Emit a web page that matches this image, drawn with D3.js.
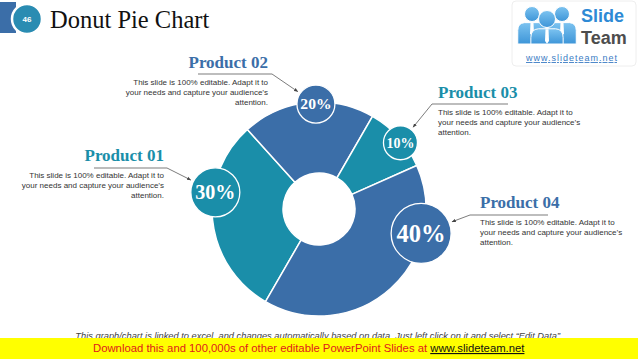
<!DOCTYPE html>
<html>
<head lang="en">
  <title>Donut Pie Chart</title>
  <script src="https://d3js.org/d3.v7.min.js" charset="utf-8"></script>
  <style>
    body { margin: 0; background: #fff; }
    svg { display: block; }
  </style>
</head>
<body>
  <script>
    // chart data
    var products = ["Product 01", "Product 02", "Product 03", "Product 04"];
    var shares = [30, 20, 10, 40];
    var descLines = ["This slide is 100% editable. Adapt it to",
                     "your needs and capture your audience\u2019s",
                     "attention."];

    var width = 638;
    var height = 359;
    var teal = "#1a8ea9";
    var blue = "#3b6ea8";
    var serif = "'Liberation Serif', 'Times New Roman', serif";
    var sans = "'Liberation Sans', Arial, sans-serif";

    var svg = d3.select("body")
      .append("svg")
      .attr("width", width)
      .attr("height", height);

    var defs = svg.append("defs");
    defs.append("marker")
        .attr("id", "arrow")
        .attr("viewBox", "0 0 10 10")
        .attr("refX", 9).attr("refY", 5)
        .attr("markerWidth", 6).attr("markerHeight", 6)
        .attr("orient", "auto")
      .append("path")
        .attr("d", "M0,1 L10,5 L0,9 Z")
        .attr("fill", "#444");

    //HEADER
    svg.append("rect")
      .attr("x", 0).attr("y", 2).attr("width", 16).attr("height", 31)
      .attr("fill", blue);
    svg.append("circle")
      .attr("cx", 27).attr("cy", 19).attr("r", 15)
      .attr("fill", "#2a8cb2")
      .attr("stroke", "#fff").attr("stroke-width", 2.5);
    svg.append("text")
      .attr("x", 27).attr("y", 22)
      .attr("text-anchor", "middle")
      .style("font", "bold 8px " + sans)
      .attr("fill", "#fff")
      .text("46");
    svg.append("text")
      .attr("x", 50).attr("y", 28)
      .style("font-family", serif)
      .style("font-size", "24.5px")
      .attr("fill", "#111")
      .text("Donut Pie Chart");

    //LOGO
    var logo = svg.append("g");
    logo.append("rect")
      .attr("x", 512).attr("y", 1).attr("width", 124).attr("height", 65).attr("rx", 4)
      .attr("fill", "#fff").attr("stroke", "#eee");
    var grad = defs.append("linearGradient").attr("id", "ppl")
      .attr("x1", 0).attr("y1", 0).attr("x2", 0).attr("y2", 1);
    grad.append("stop").attr("offset", "0%").attr("stop-color", "#7cc3f0");
    grad.append("stop").attr("offset", "100%").attr("stop-color", "#3d95d8");
    [[532, 14, 7.5], [562, 14, 7.5], [547, 19, 8.5]].forEach(function(p) {
      var cx = p[0], cy = p[1], r = p[2];
      logo.append("path")
        .attr("d", "M" + (cx - r * 1.9) + "," + (44) +
                   " L" + (cx - r * 1.9) + "," + (cy + r * 2.2) +
                   " Q" + (cx - r * 1.9) + "," + (cy + r * 1.2) + " " + (cx - r) + "," + (cy + r * 1.15) +
                   " L" + (cx + r) + "," + (cy + r * 1.15) +
                   " Q" + (cx + r * 1.9) + "," + (cy + r * 1.2) + " " + (cx + r * 1.9) + "," + (cy + r * 2.2) +
                   " L" + (cx + r * 1.9) + "," + 44 + " Z")
        .attr("fill", "url(#ppl)").attr("stroke", "#fff").attr("stroke-width", 1);
      logo.append("circle")
        .attr("cx", cx).attr("cy", cy).attr("r", r)
        .attr("fill", "url(#ppl)").attr("stroke", "#fff").attr("stroke-width", 1);
      logo.append("path")
        .attr("d", "M" + (cx - 1.5) + "," + (cy + r * 1.2) + " L" + (cx + 1.5) + "," + (cy + r * 1.2) +
                   " L" + (cx + 2) + "," + (cy + r * 2.6) + " L" + cx + "," + (cy + r * 2.9) +
                   " L" + (cx - 2) + "," + (cy + r * 2.6) + " Z")
        .attr("fill", "#fff");
    });
    logo.append("text")
      .attr("x", 581).attr("y", 22)
      .style("font", "bold 18px " + sans)
      .attr("fill", "#2e8ad5")
      .text("Slide");
    logo.append("text")
      .attr("x", 581).attr("y", 44)
      .style("font", "bold 18px " + sans)
      .attr("fill", "#4d4d4d")
      .text("Team");
    logo.append("text")
      .attr("x", 526).attr("y", 61)
      .attr("textLength", 91)
      .style("font", "9px " + sans)
      .style("text-decoration", "underline")
      .attr("fill", "#3b7cc4")
      .text("www.slideteam.net");

    //DONUT
    var cx = 319, cy = 209;
    var outerR = 107, innerR = 36;
    var colors = [teal, blue, teal, blue];

    var pie = d3.pie()
      .sort(null)
      .startAngle(210 * Math.PI / 180)
      .endAngle(570 * Math.PI / 180);

    var arc = d3.arc()
      .innerRadius(innerR)
      .outerRadius(outerR);

    var arcs = pie(shares);

    var donut = svg.append("g")
      .attr("transform", "translate(" + cx + "," + cy + ")");

    donut.selectAll("path")
      .data(arcs)
      .enter().append("path")
        .attr("d", arc)
        .attr("fill", function(d, i) { return colors[i]; })
        .attr("stroke", "#fff")
        .attr("stroke-width", 1.5);

    // badge sits on the rim, at this fraction along its slice
    var badgeAt = [0.64, 0.56, 0.58, 0.26];
    var badgeR = d3.scaleLinear().domain([10, 20, 40]).range([17, 19, 30]);

    var badges = arcs.map(function(d, i) {
      var a = d.startAngle + (d.endAngle - d.startAngle) * badgeAt[i];
      var rr = outerR - 2;
      return {
        x: cx + rr * Math.sin(a),
        y: cy - rr * Math.cos(a),
        r: badgeR(d.data),
        v: d.data,
        color: colors[i]
      };
    });

    var badge = svg.append("g").selectAll("g")
      .data(badges)
      .enter().append("g")
        .attr("transform", function(d) { return "translate(" + d.x + "," + d.y + ")"; });
    badge.append("circle")
      .attr("r", function(d) { return d.r; })
      .attr("fill", function(d) { return d.color; })
      .attr("stroke", "#fff")
      .attr("stroke-width", 1.3);
    badge.append("text")
      .attr("text-anchor", "middle")
      .attr("dy", "0.35em")
      .style("font-family", serif)
      .style("font-weight", "bold")
      .style("font-size", function(d) { return (d.r * 0.82) + "px"; })
      .attr("fill", "#fff")
      .text(function(d) { return d.v + "%"; });

    //CALLOUTS
    var callouts = [
      { x: 164, y: 161, anchor: "end",   line: [94, 168, 167] },
      { x: 268, y: 68,  anchor: "end",   line: [198, 74, 272] },
      { x: 438, y: 98,  anchor: "start", line: [508, 104, 432] },
      { x: 480, y: 208, anchor: "start", line: [548, 215, 470] }
    ];

    callouts.forEach(function(c, i) {
      var b = badges[i];
      svg.append("text")
        .attr("x", c.x).attr("y", c.y)
        .attr("text-anchor", c.anchor)
        .style("font-family", serif)
        .style("font-weight", "bold")
        .style("font-size", "17px")
        .attr("fill", colors[i])
        .text(products[i]);

      descLines.forEach(function(t, j) {
        svg.append("text")
          .attr("x", c.x).attr("y", c.y + 17 + j * 10)
          .attr("text-anchor", c.anchor)
          .style("font-family", sans)
          .style("font-size", "8px")
          .attr("fill", "#333")
          .text(t);
      });

      var ex = c.line[2], ey = c.line[1];
      var dx = b.x - ex, dy = b.y - ey;
      var len = Math.sqrt(dx * dx + dy * dy);
      var tx = b.x - dx / len * (b.r + 3);
      var ty = b.y - dy / len * (b.r + 3);
      svg.append("path")
        .attr("d", "M" + c.line[0] + "," + ey + " L" + ex + "," + ey + " L" + tx + "," + ty)
        .attr("fill", "none")
        .attr("stroke", "#444")
        .attr("stroke-width", 0.7)
        .attr("marker-end", "url(#arrow)");
    });

    //FOOTER
    svg.append("text")
      .attr("x", 319).attr("y", 339)
      .attr("text-anchor", "middle")
      .style("font-family", sans)
      .style("font-style", "italic")
      .style("font-size", "9.3px")
      .attr("fill", "#444")
      .text("This graph/chart is linked to excel, and changes automatically based on data. Just left click on it and select \u201CEdit Data\u201D.");
    svg.append("rect")
      .attr("x", 0).attr("y", 338).attr("width", width).attr("height", 21)
      .attr("fill", "#ffff00");
    var dl = svg.append("text")
      .attr("x", 93).attr("y", 352)
      .style("font-family", sans)
      .style("font-size", "11.3px")
      .attr("fill", "#e0201b");
    dl.append("tspan").text("Download this and 100,000s of other editable PowerPoint Slides at ");
    dl.append("tspan")
      .attr("fill", "#111")
      .style("text-decoration", "underline")
      .text("www.slideteam.net");
  </script>
</body>
</html>
